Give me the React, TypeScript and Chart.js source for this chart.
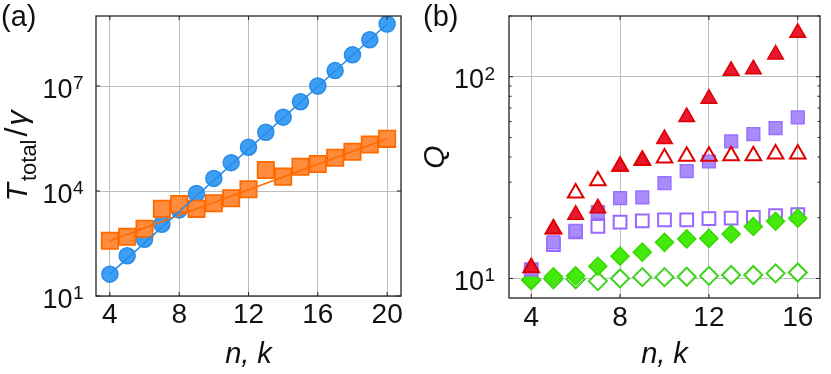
import React, { useEffect, useRef } from "react";
import { Chart, registerables } from "chart.js";
Chart.register(...registerables);

// ---------- Panel (a) data ----------
const nA = [4, 5, 6, 7, 8, 9, 10, 11, 12, 13, 14, 15, 16, 17, 18, 19, 20];
const tBlue = [42, 141, 417, 1120, 2880, 8500, 22900, 64600, 178000, 479000, 1.29e6, 3.55e6, 1.0e7, 2.75e7, 7.76e7, 2.09e8, 5.89e8];
const tOrange = [380, 490, 832, 3090, 4270, 3090, 4470, 6170, 11200, 39800, 25700, 49000, 58900, 89100, 132000, 214000, 309000];
const fitN = [4, 20];
const fitBlue = [42, 5.9e8];
const fitOrange = [380, 3.1e5];
const xTicksA = [4, 8, 12, 16, 20];
const yTicksA = [1e1, 1e4, 1e7];

// ---------- Panel (b) data ----------
const nB = [4, 5, 6, 7, 8, 9, 10, 11, 12, 13, 14, 15, 16];
const qRedFilled = [11.3, 17.6, 20.7, 22.3, 35.9, 38.3, 49.1, 63.1, 77.8, 107, 109, 129, 165];
const qRedHollow = [11.3, 17.6, 26.5, 30.5, 36.0, 38.5, 39.5, 40.3, 40.3, 40.6, 40.6, 41.4, 41.4];
const qPurpleFilled = [11.1, 15.1, 17.2, 21.3, 25.0, 25.2, 29.7, 34.0, 38.0, 47.8, 52.0, 55.6, 62.8];
const qPurpleHollow = [11.0, 14.7, 17.0, 18.1, 19.0, 19.3, 19.5, 19.5, 19.8, 19.9, 20.1, 20.5, 20.7];
const qGreenFilled = [9.85, 10.2, 10.3, 11.5, 12.9, 13.5, 15.1, 15.7, 15.8, 16.6, 18.1, 19.2, 19.9];
const qGreenHollow = [9.8, 9.9, 9.9, 9.7, 10.0, 10.15, 10.15, 10.2, 10.3, 10.4, 10.4, 10.6, 10.7];
const xTicksB = [4, 8, 12, 16];
const yTicksB = [10, 100];
const yMinorB = [20, 30, 40, 50, 60, 70, 80, 90, 200];

const FAM = "'Liberation Sans', Arial, sans-serif";
const INK = "#111";
const GRID = "#bdbdbd";

const pts = (xs: number[], ys: number[]) => xs.map((x, i) => ({ x, y: ys[i] }));

function decor(opts: any) {
  return {
    id: "decor",
    afterDraw(chart: any) {
      const { ctx, chartArea: a, scales } = chart;
      ctx.save();
      const seg = (x1: number, y1: number, x2: number, y2: number) => {
        ctx.beginPath();
        ctx.moveTo(x1, y1);
        ctx.lineTo(x2, y2);
        ctx.stroke();
      };
      ctx.strokeStyle = "#222";
      ctx.lineWidth = 1;
      for (const v of opts.yMajor) {
        const y = scales.y.getPixelForValue(v);
        seg(a.left, y, a.left + 4, y);
        seg(a.right - 4, y, a.right, y);
      }
      for (const v of opts.yMinor || []) {
        const y = scales.y.getPixelForValue(v);
        seg(a.left, y, a.left + 2.5, y);
        seg(a.right - 2.5, y, a.right, y);
      }
      for (const v of opts.xMajor) {
        const x = scales.x.getPixelForValue(v);
        seg(x, a.bottom, x, a.bottom - 4);
        seg(x, a.top, x, a.top + 4);
      }
      ctx.lineWidth = 1.3;
      ctx.strokeRect(a.left, a.top, a.right - a.left, a.bottom - a.top);

      // y tick labels: 10 with superscript exponent
      ctx.fillStyle = INK;
      ctx.textBaseline = "alphabetic";
      ctx.textAlign = "right";
      for (const v of opts.yMajor) {
        const y = scales.y.getPixelForValue(v);
        const e = String(Math.round(Math.log10(v)));
        const xr = a.left - opts.yGap;
        ctx.font = `19px ${FAM}`;
        const we = ctx.measureText(e).width;
        ctx.fillText(e, xr, y + 3);
        ctx.font = `27px ${FAM}`;
        ctx.fillText("10", xr - we - 0.5, y + 11.5);
      }

      ctx.textAlign = "left";
      ctx.font = `29px ${FAM}`;
      ctx.fillText(opts.label, opts.labelX, 26);
      if (opts.extra) opts.extra(ctx, chart);
      ctx.restore();
    },
  };
}

function drawTitleA(ctx: CanvasRenderingContext2D, chart: any) {
  const a = chart.chartArea;
  const cy = (a.top + a.bottom) / 2;
  const cx = 27;
  ctx.save();
  ctx.translate(cx, cy);
  ctx.rotate(-Math.PI / 2);
  ctx.fillStyle = INK;
  ctx.textAlign = "left";
  ctx.textBaseline = "alphabetic";
  const parts = [
    { t: "T", f: `italic 30px ${FAM}`, dy: 0, gap: 2 },
    { t: "total", f: `22px ${FAM}`, dy: 9, gap: 3 },
    { t: "/", f: `32px ${FAM}`, dy: 0, gap: 2 },
    { t: "γ", f: `italic 30px ${FAM}`, dy: 0, gap: 0 },
  ];
  let w = 0;
  for (const p of parts) {
    ctx.font = p.f;
    w += ctx.measureText(p.t).width + p.gap;
  }
  let x = -w / 2;
  for (const p of parts) {
    ctx.font = p.f;
    ctx.fillText(p.t, x, p.dy);
    x += ctx.measureText(p.t).width + p.gap;
  }
  ctx.restore();
}

function makeScales(o: any) {
  return {
    x: {
      type: "linear",
      min: o.xMin,
      max: o.xMax,
      afterBuildTicks: (s: any) => {
        s.ticks = o.xTicks.map((v: number) => ({ value: v }));
      },
      afterFit: (s: any) => {
        s.height = o.xH;
        s.paddingLeft = 0;
        s.paddingRight = 0;
      },
      grid: { color: GRID, lineWidth: 1, drawTicks: false },
      border: { display: false },
      ticks: {
        color: INK,
        font: { family: FAM, size: 28 },
        padding: o.xPad,
        maxRotation: 0,
        autoSkip: false,
        callback: (v: any) => String(v),
      },
      title: {
        display: true,
        text: "n, k",
        color: INK,
        font: { family: FAM, size: 29, style: "italic" },
        padding: { top: 0, bottom: 2 },
      },
    },
    y: {
      type: "logarithmic",
      min: o.yMin,
      max: o.yMax,
      afterBuildTicks: (s: any) => {
        s.ticks = o.yTicks.map((v: number) => ({ value: v }));
      },
      afterFit: (s: any) => {
        s.width = o.yW;
        s.paddingTop = 0;
        s.paddingBottom = 0;
      },
      grid: { color: GRID, lineWidth: 1, drawTicks: false },
      border: { display: false },
      ticks: { display: false },
      title: o.yTitle
        ? {
            display: true,
            text: o.yTitle,
            color: INK,
            font: { family: FAM, size: 30, style: "italic" },
            padding: { top: 3, bottom: 0 },
          }
        : { display: false },
    },
  };
}

function PanelA() {
  const ref = useRef<HTMLCanvasElement>(null);
  useEffect(() => {
    const chart = new Chart(ref.current as HTMLCanvasElement, {
      type: "scatter",
      data: {
        datasets: [
          { data: pts(fitN, fitBlue), showLine: true, pointRadius: 0, borderColor: "#2a8be6", borderWidth: 1.6, order: 0 } as any,
          { data: pts(fitN, fitOrange), showLine: true, pointRadius: 0, borderColor: "#ff6a00", borderWidth: 1.6, order: 1 },
          { data: pts(nA, tOrange), pointStyle: "rect", pointRadius: 11.5, backgroundColor: "#ff8c3c", borderColor: "#ff6a00", borderWidth: 1.8, order: 2 },
          { data: pts(nA, tBlue), pointStyle: "circle", pointRadius: 8, backgroundColor: "#3c9ff5", borderColor: "#2a8be6", borderWidth: 1.5, order: 3 },
        ],
      },
      options: {
        responsive: false,
        animation: false,
        layout: { padding: { left: 0, right: 14, top: 16, bottom: 0 } },
        plugins: { legend: { display: false }, tooltip: { enabled: false } },
        scales: makeScales({ xMin: 3.2, xMax: 20.8, xTicks: xTicksA, xH: 78, xPad: 2, yMin: 10, yMax: 1e9, yTicks: yTicksA, yW: 96 }) as any,
      },
      plugins: [decor({ yMajor: yTicksA, xMajor: xTicksA, yGap: 12.5, label: "(a)", labelX: 1, extra: drawTitleA })],
    });
    return () => chart.destroy();
  }, []);
  return <canvas ref={ref} width={415} height={374} style={{ position: "absolute", left: 0, top: 0, width: 415, height: 374 }} />;
}

function PanelB() {
  const ref = useRef<HTMLCanvasElement>(null);
  useEffect(() => {
    const chart = new Chart(ref.current as HTMLCanvasElement, {
      type: "scatter",
      data: {
        datasets: [
          { data: pts(nB, qRedHollow), pointStyle: "triangle", pointRadius: 9, backgroundColor: "rgba(255,255,255,0)", borderColor: "#e00000", borderWidth: 2, order: 0 } as any,
          { data: pts(nB, qRedFilled), pointStyle: "triangle", pointRadius: 9, backgroundColor: "#e8182f", borderColor: "#e00000", borderWidth: 1.5, order: 1 },
          { data: pts(nB, qPurpleFilled), pointStyle: "rect", pointRadius: 9, backgroundColor: "#a98cfa", borderColor: "#9a70ff", borderWidth: 1.5, order: 2 },
          { data: pts(nB, qGreenFilled), pointStyle: "rectRot", pointRadius: 9, backgroundColor: "#44ea0c", borderColor: "#3ad800", borderWidth: 1.5, order: 3 },
          { data: pts(nB, qGreenHollow), pointStyle: "rectRot", pointRadius: 9, backgroundColor: "#ffffff", borderColor: "#3cd41a", borderWidth: 2, order: 4 },
          { data: pts(nB, qPurpleHollow), pointStyle: "rect", pointRadius: 9, backgroundColor: "#ffffff", borderColor: "#9966ff", borderWidth: 2, order: 5 },
        ],
      },
      options: {
        responsive: false,
        animation: false,
        layout: { padding: { left: 0, right: 8, top: 16, bottom: 0 } },
        plugins: { legend: { display: false }, tooltip: { enabled: false } },
        scales: makeScales({ xMin: 3, xMax: 17, xTicks: xTicksB, xH: 76, xPad: 3, yMin: 8, yMax: 200, yTicks: yTicksB, yW: 94, yTitle: "Q" }) as any,
      },
      plugins: [decor({ yMajor: yTicksB, yMinor: yMinorB, xMajor: xTicksB, yGap: 14, label: "(b)", labelX: 8 })],
    });
    return () => chart.destroy();
  }, []);
  return <canvas ref={ref} width={416} height={374} style={{ position: "absolute", left: 415, top: 0, width: 416, height: 374 }} />;
}

export default function App() {
  return (
    <div style={{ position: "absolute", left: 0, top: 0, width: 831, height: 374, background: "#fff" }}>
      <PanelA />
      <PanelB />
    </div>
  );
}
